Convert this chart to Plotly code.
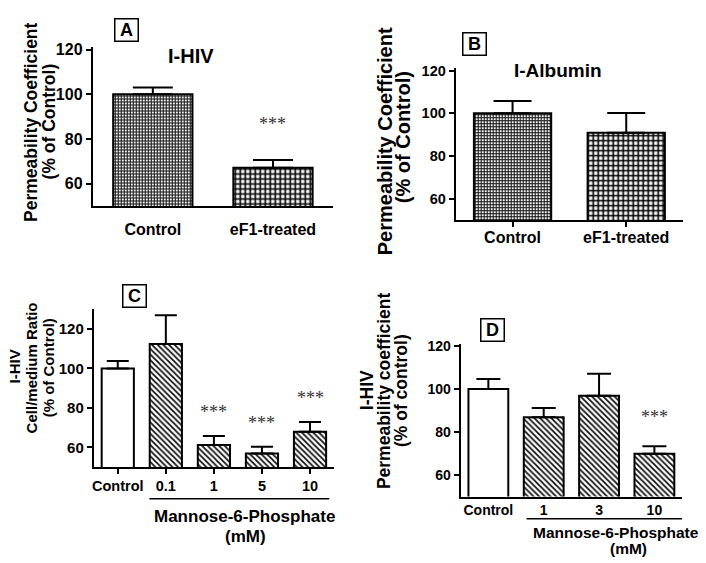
import plotly.graph_objects as go

W, H = 706, 563

# ---------------- data ----------------
a_cats = ["Control", "eF1-treated"]
a_vals = [100, 67.2]
a_err = [3.1, 3.4]
a_sig = ["", "***"]

b_cats = ["Control", "eF1-treated"]
b_vals = [100, 90.9]
b_err = [5.8, 9.3]
b_sig = ["", ""]

c_cats = ["Control", "0.1", "1", "5", "10"]
c_vals = [100, 112.4, 61.3, 57.0, 67.9]
c_err = [3.8, 14.6, 4.5, 3.4, 5.0]
c_sig = ["", "", "***", "***", "***"]

d_cats = ["Control", "1", "3", "10"]
d_vals = [100, 86.8, 96.8, 69.9]
d_err = [4.6, 4.3, 10.3, 3.5]
d_sig = ["", "", "", "***"]

y_ticks = [60, 80, 100, 120]

FONT = "Liberation Sans, Arial, Helvetica, sans-serif"
SERIF = "Liberation Serif, Times New Roman, serif"


def px(x):
    return x / W


def py(y):
    return 1 - y / H


fig = go.Figure()


def add_bars(cats, vals, err, patterns, xa, ya, width, capw):
    for i, c in enumerate(cats):
        shape, size, sol, fg = patterns[i]
        marker = dict(color="white", line=dict(color="black", width=2))
        if shape:
            marker["pattern"] = dict(shape=shape, size=size, solidity=sol,
                                     fgcolor=fg, bgcolor="white", fillmode="replace")
        fig.add_trace(go.Bar(
            x=[i], y=[vals[i]], xaxis=xa, yaxis=ya, width=width,
            marker=marker,
            error_y=dict(type="data", symmetric=False, array=[err[i]],
                         arrayminus=[0], color="black", thickness=2, width=capw),
            showlegend=False, hoverinfo="skip"))


fine = ("+", 3, 0.6, "#111")
coarse = ("+", 5, 0.55, "#000")
hatch = ("\\", 4, 0.45, "#111")
plain = ("", 0, 0, "")

add_bars(a_cats, a_vals, a_err, [fine, coarse], "x", "y", 0.66, 20)
add_bars(b_cats, b_vals, b_err, [fine, coarse], "x2", "y2", 0.68, 19)
add_bars(c_cats, c_vals, c_err, [plain, hatch, hatch, hatch, hatch], "x3", "y3", 0.67, 11)
add_bars(d_cats, d_vals, d_err, [plain, hatch, hatch, hatch], "x4", "y4", 0.72, 12)


def bold(t):
    return "<b>%s</b>" % t


def yax(domain, rng, fs, anchor):
    return dict(domain=domain, range=rng, anchor=anchor, tickvals=y_ticks,
                ticktext=[bold(v) for v in y_ticks],
                ticks="outside", ticklen=5, tickwidth=2, tickcolor="black",
                showline=True, linewidth=2, linecolor="black",
                showgrid=False, zeroline=False,
                tickfont=dict(family=FONT, size=fs, color="black"))


def xax(domain, cats, fs, anchor, ticks, standoff):
    n = len(cats)
    return dict(domain=domain, range=[-0.5, n - 0.5], anchor=anchor,
                tickvals=list(range(n)), ticktext=[bold(c) for c in cats],
                ticks=ticks, ticklen=5, tickwidth=2, tickcolor="black",
                showline=True, linewidth=2, linecolor="black",
                showgrid=False, zeroline=False, ticklabelstandoff=standoff,
                tickfont=dict(family=FONT, size=fs, color="black"))


fig.update_layout(
    width=W, height=H,
    margin=dict(l=0, r=0, t=0, b=0),
    paper_bgcolor="white", plot_bgcolor="white",
    barmode="overlay", showlegend=False,
    xaxis=xax([px(91), px(332)], a_cats, 16, "y", "", 8),
    yaxis=yax([py(201.7), py(40)], [50, 121.4], 16, "x"),
    xaxis2=xax([px(455), px(683)], b_cats, 16, "y2", "outside", -4),
    yaxis2=yax([py(216), py(62)], [50, 121.1], 14.5, "x2"),
    xaxis3=xax([px(92), px(333)], c_cats, 14.5, "y3", "outside", -1),
    yaxis3=yax([py(466), py(306)], [50, 130], 15, "x3"),
    xaxis4=xax([px(460), px(682)], d_cats, 14, "y4", "", 0),
    yaxis4=yax([py(495.7), py(341.7)], [50, 120.7], 14, "x4"),
)

ann = []


def label(x, y, text, size, angle=0, family=FONT, color="black"):
    ann.append(dict(x=px(x), y=py(y), xref="paper", yref="paper", text=bold(text),
                    showarrow=False, textangle=angle, xanchor="center", yanchor="middle",
                    font=dict(family=family, size=size, color=color)))


def boxlabel(x, y, text):
    ann.append(dict(x=px(x), y=py(y), xref="paper", yref="paper", text=bold(text),
                    showarrow=False, xanchor="center", yanchor="middle",
                    width=20, height=19, borderpad=1, bordercolor="black", borderwidth=1.5,
                    bgcolor="white",
                    font=dict(family=FONT, size=18, color="black")))


def stars(vals, err, sig, xa, ya, shift):
    for i, (v, e, s) in enumerate(zip(vals, err, sig)):
        if s:
            ann.append(dict(x=i, y=v + e, xref=xa, yref=ya, text=s, showarrow=False,
                            yshift=shift, xanchor="center", yanchor="middle",
                            font=dict(family=SERIF, size=18, color="#333")))


# panel letters
boxlabel(124.5, 23, "A")
boxlabel(474, 37, "B")
boxlabel(132.5, 293, "C")
boxlabel(492, 327, "D")

# panel titles
label(190, 50, "I-HIV", 20)
label(558, 64, "I-Albumin", 19)

# y titles
label(29, 116.5, "Permeability Coefficient", 17.5, -90)
label(47.5, 115.5, "(% of Control)", 17.5, -90)
label(384, 136, "Permeability Coefficient", 20, -90)
label(403, 132, "(% of Control)", 20, -90)
label(13, 364, "I-HIV", 15, -90)
label(30, 365, "Cell/medium Ratio", 15, -90)
label(47, 365, "(% of Control)", 15, -90)
label(366, 388, "I-HIV", 17.5, -90)
label(383, 388, "Permeability coefficient", 17.5, -90)
label(400, 388, "(% of control)", 17.5, -90)

# group labels
label(243, 516, "Mannose-6-Phosphate", 17)
label(244, 536, "(mM)", 17)
label(616, 532, "Mannose-6-Phosphate", 15.5)
label(628, 548, "(mM)", 15.5)

stars(a_vals, a_err, a_sig, "x", "y", 36)
stars(c_vals, c_err, c_sig, "x3", "y3", 24)
stars(d_vals, d_err, d_sig, "x4", "y4", 29)

fig.update_layout(annotations=ann)

# group underline bars
fig.add_shape(type="line", xref="x3", yref="paper", x0=0.66, x1=4.4,
              y0=py(498), y1=py(498), line=dict(color="black", width=1.5))
fig.add_shape(type="line", xref="x4", yref="paper", x0=0.69, x1=3.5,
              y0=py(518.3), y1=py(518.3), line=dict(color="black", width=1.5))

fig.write_html(
    "out.html",
    config={"displayModeBar": False},
    post_script=("document.body.style.margin='0';document.body.style.padding='0';"
                 "var g=document.querySelector('.plotly-graph-div');"
                 "g.style.position='absolute';g.style.top='0px';g.style.left='0px';"),
)
